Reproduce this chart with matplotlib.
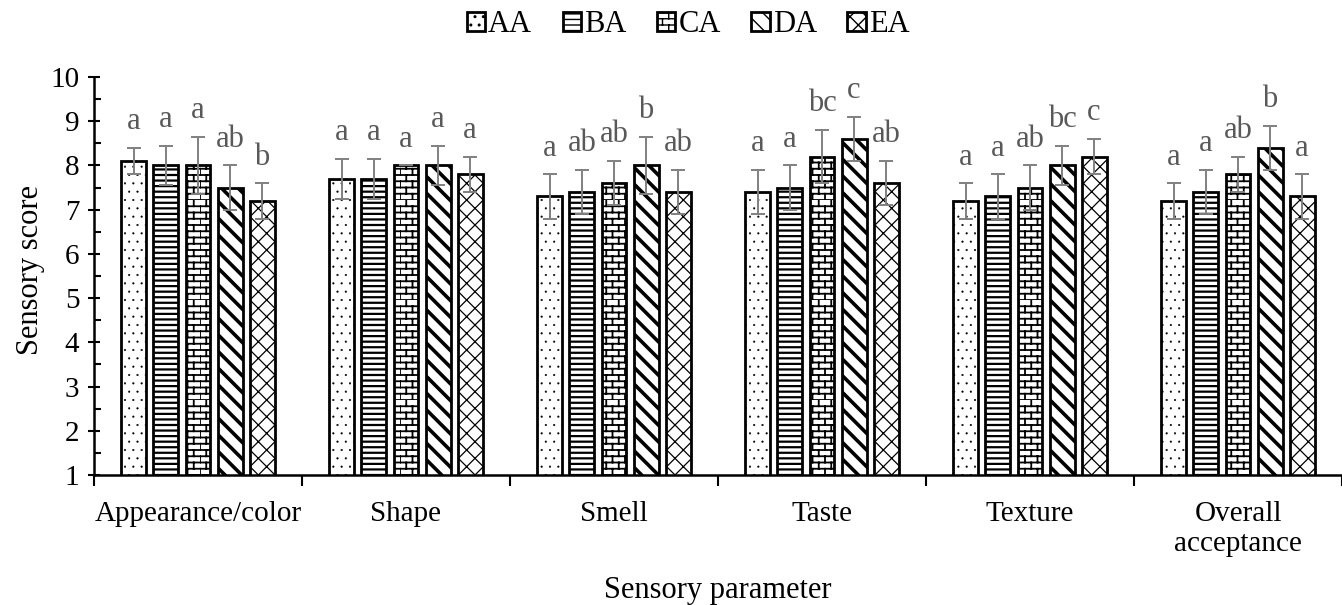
#!/usr/bin/env python3
"""Sensory scores of five samples, grouped bars with hatches and letters."""
import warnings

import numpy as np
import matplotlib
matplotlib.use("Agg")
import matplotlib.pyplot as plt
from matplotlib import hatch as mhatch
from matplotlib.path import Path
from matplotlib.ticker import MultipleLocator

warnings.filterwarnings("ignore")

CATEGORIES = ["Appearance/color", "Shape", "Smell", "Taste", "Texture",
              "Overall\nacceptance"]
SAMPLES = ["AA", "BA", "CA", "DA", "EA"]

AA = [8.1, 7.7, 7.3, 7.4, 7.2, 7.2]
BA = [8.0, 7.7, 7.4, 7.5, 7.3, 7.4]
CA = [8.0, 8.0, 7.6, 8.2, 7.5, 7.8]
DA = [7.5, 8.0, 8.0, 8.6, 8.0, 8.4]
EA = [7.2, 7.8, 7.4, 7.6, 8.2, 7.3]

AA_ERR = [0.30, 0.45, 0.50, 0.50, 0.40, 0.40]
BA_ERR = [0.45, 0.45, 0.50, 0.50, 0.50, 0.50]
CA_ERR = [0.65, 0.00, 0.50, 0.60, 0.50, 0.40]
DA_ERR = [0.50, 0.45, 0.65, 0.50, 0.45, 0.50]
EA_ERR = [0.40, 0.40, 0.50, 0.50, 0.40, 0.50]

AA_LET = ["a", "a", "a", "a", "a", "a"]
BA_LET = ["a", "a", "ab", "a", "a", "a"]
CA_LET = ["a", "a", "ab", "bc", "ab", "ab"]
DA_LET = ["ab", "a", "b", "c", "bc", "b"]
EA_LET = ["b", "a", "ab", "ab", "c", "a"]


class BrickHatch(mhatch.HatchPatternBase):
    """Brick-wall hatch, selected by the letter 'k'."""

    def __init__(self, hatch, density):
        n = hatch.count("k")
        self.rows = 16 * n
        self.cols = 8 * n
        self.num_vertices = self.rows * 2 + self.rows * self.cols * 2

    def set_vertices_and_codes(self, vertices, codes):
        i = 0
        for r in range(self.rows):
            y0 = r / self.rows
            y1 = (r + 1) / self.rows
            vertices[i] = (0.0, y0)
            vertices[i + 1] = (1.0, y0)
            codes[i] = Path.MOVETO
            codes[i + 1] = Path.LINETO
            i += 2
            shift = 0.5 * (r % 2)
            for c in range(self.cols):
                x = (c + shift) / self.cols
                vertices[i] = (x, y0)
                vertices[i + 1] = (x, y1)
                codes[i] = Path.MOVETO
                codes[i + 1] = Path.LINETO
                i += 2


mhatch._hatch_types.append(BrickHatch)

plt.rcParams["font.family"] = ["Liberation Serif", "DejaVu Serif"]

means = [AA, BA, CA, DA, EA]
errs = [AA_ERR, BA_ERR, CA_ERR, DA_ERR, EA_ERR]
letters = [AA_LET, BA_LET, CA_LET, DA_LET, EA_LET]
hatches = ["..", "---", "k", "\\\\", "xx"]
hatch_lw = [0.3, 1.6, 1.3, 2.6, 0.9]

fig = plt.figure(figsize=(13.42, 6.05), dpi=100)
ax = fig.add_axes([94 / 1342, 1 - 475 / 605, 1 - 94 / 1342, (475 - 77) / 605])

x = np.arange(len(CATEGORIES))
step = 0.154
width = 0.12
handles = []
for i, name in enumerate(SAMPLES):
    pos = x + (i - 2) * step
    with plt.rc_context({"hatch.linewidth": hatch_lw[i]}):
        bars = ax.bar(pos, means[i], width, color="white", edgecolor="black",
                      linewidth=2.0, hatch=hatches[i], label=name, zorder=2)
    for b in bars:
        if hasattr(b, "set_hatch_linewidth"):
            b.set_hatch_linewidth(hatch_lw[i])
    handles.append(bars)
    ax.errorbar(pos, means[i], yerr=errs[i], fmt="none", ecolor="#808080",
                elinewidth=1.4, capsize=4.8, capthick=1.4, zorder=3)
    for px, m, e, lab in zip(pos, means[i], errs[i], letters[i]):
        ax.text(px, m + e + 0.42, lab, ha="center", va="baseline",
                fontsize=22, color="#595959", zorder=4)

ax.set_xlim(-0.5, len(CATEGORIES) - 0.5)
ax.set_ylim(1, 10)
ax.yaxis.set_major_locator(MultipleLocator(1))
ax.yaxis.set_minor_locator(MultipleLocator(0.5))
ax.tick_params(axis="y", which="major", direction="inout", length=9,
               width=1.5, labelsize=21, pad=6)
ax.tick_params(axis="y", which="minor", direction="in", length=5, width=1.5)

ax.set_xticks(np.arange(len(CATEGORIES) + 1) - 0.5)
ax.set_xticklabels([])
ax.set_xticks(x, minor=True)
ax.set_xticklabels(CATEGORIES, minor=True, fontsize=21, linespacing=1.2,
                   va="top")
ax.tick_params(axis="x", which="major", direction="out", length=8, width=1.5)
ax.tick_params(axis="x", which="minor", length=0, pad=19)

for side in ("top", "right"):
    ax.spines[side].set_visible(False)
for side in ("left", "bottom"):
    ax.spines[side].set_linewidth(1.8)

ax.set_ylabel("Sensory score", fontsize=22, va="center")
ax.yaxis.set_label_coords(-0.051, 0.515)
ax.set_xlabel("Sensory parameter", fontsize=22, va="center")
ax.xaxis.set_label_coords(0.5, -0.29)

fig.legend(handles=handles, labels=SAMPLES, loc="center",
           bbox_to_anchor=(688 / 1342, 1 - 25 / 605), ncol=5, frameon=False,
           fontsize=22, handlelength=0.6, handleheight=0.6,
           handletextpad=0.1, columnspacing=1.0)

fig.savefig("out.png", dpi=100)
